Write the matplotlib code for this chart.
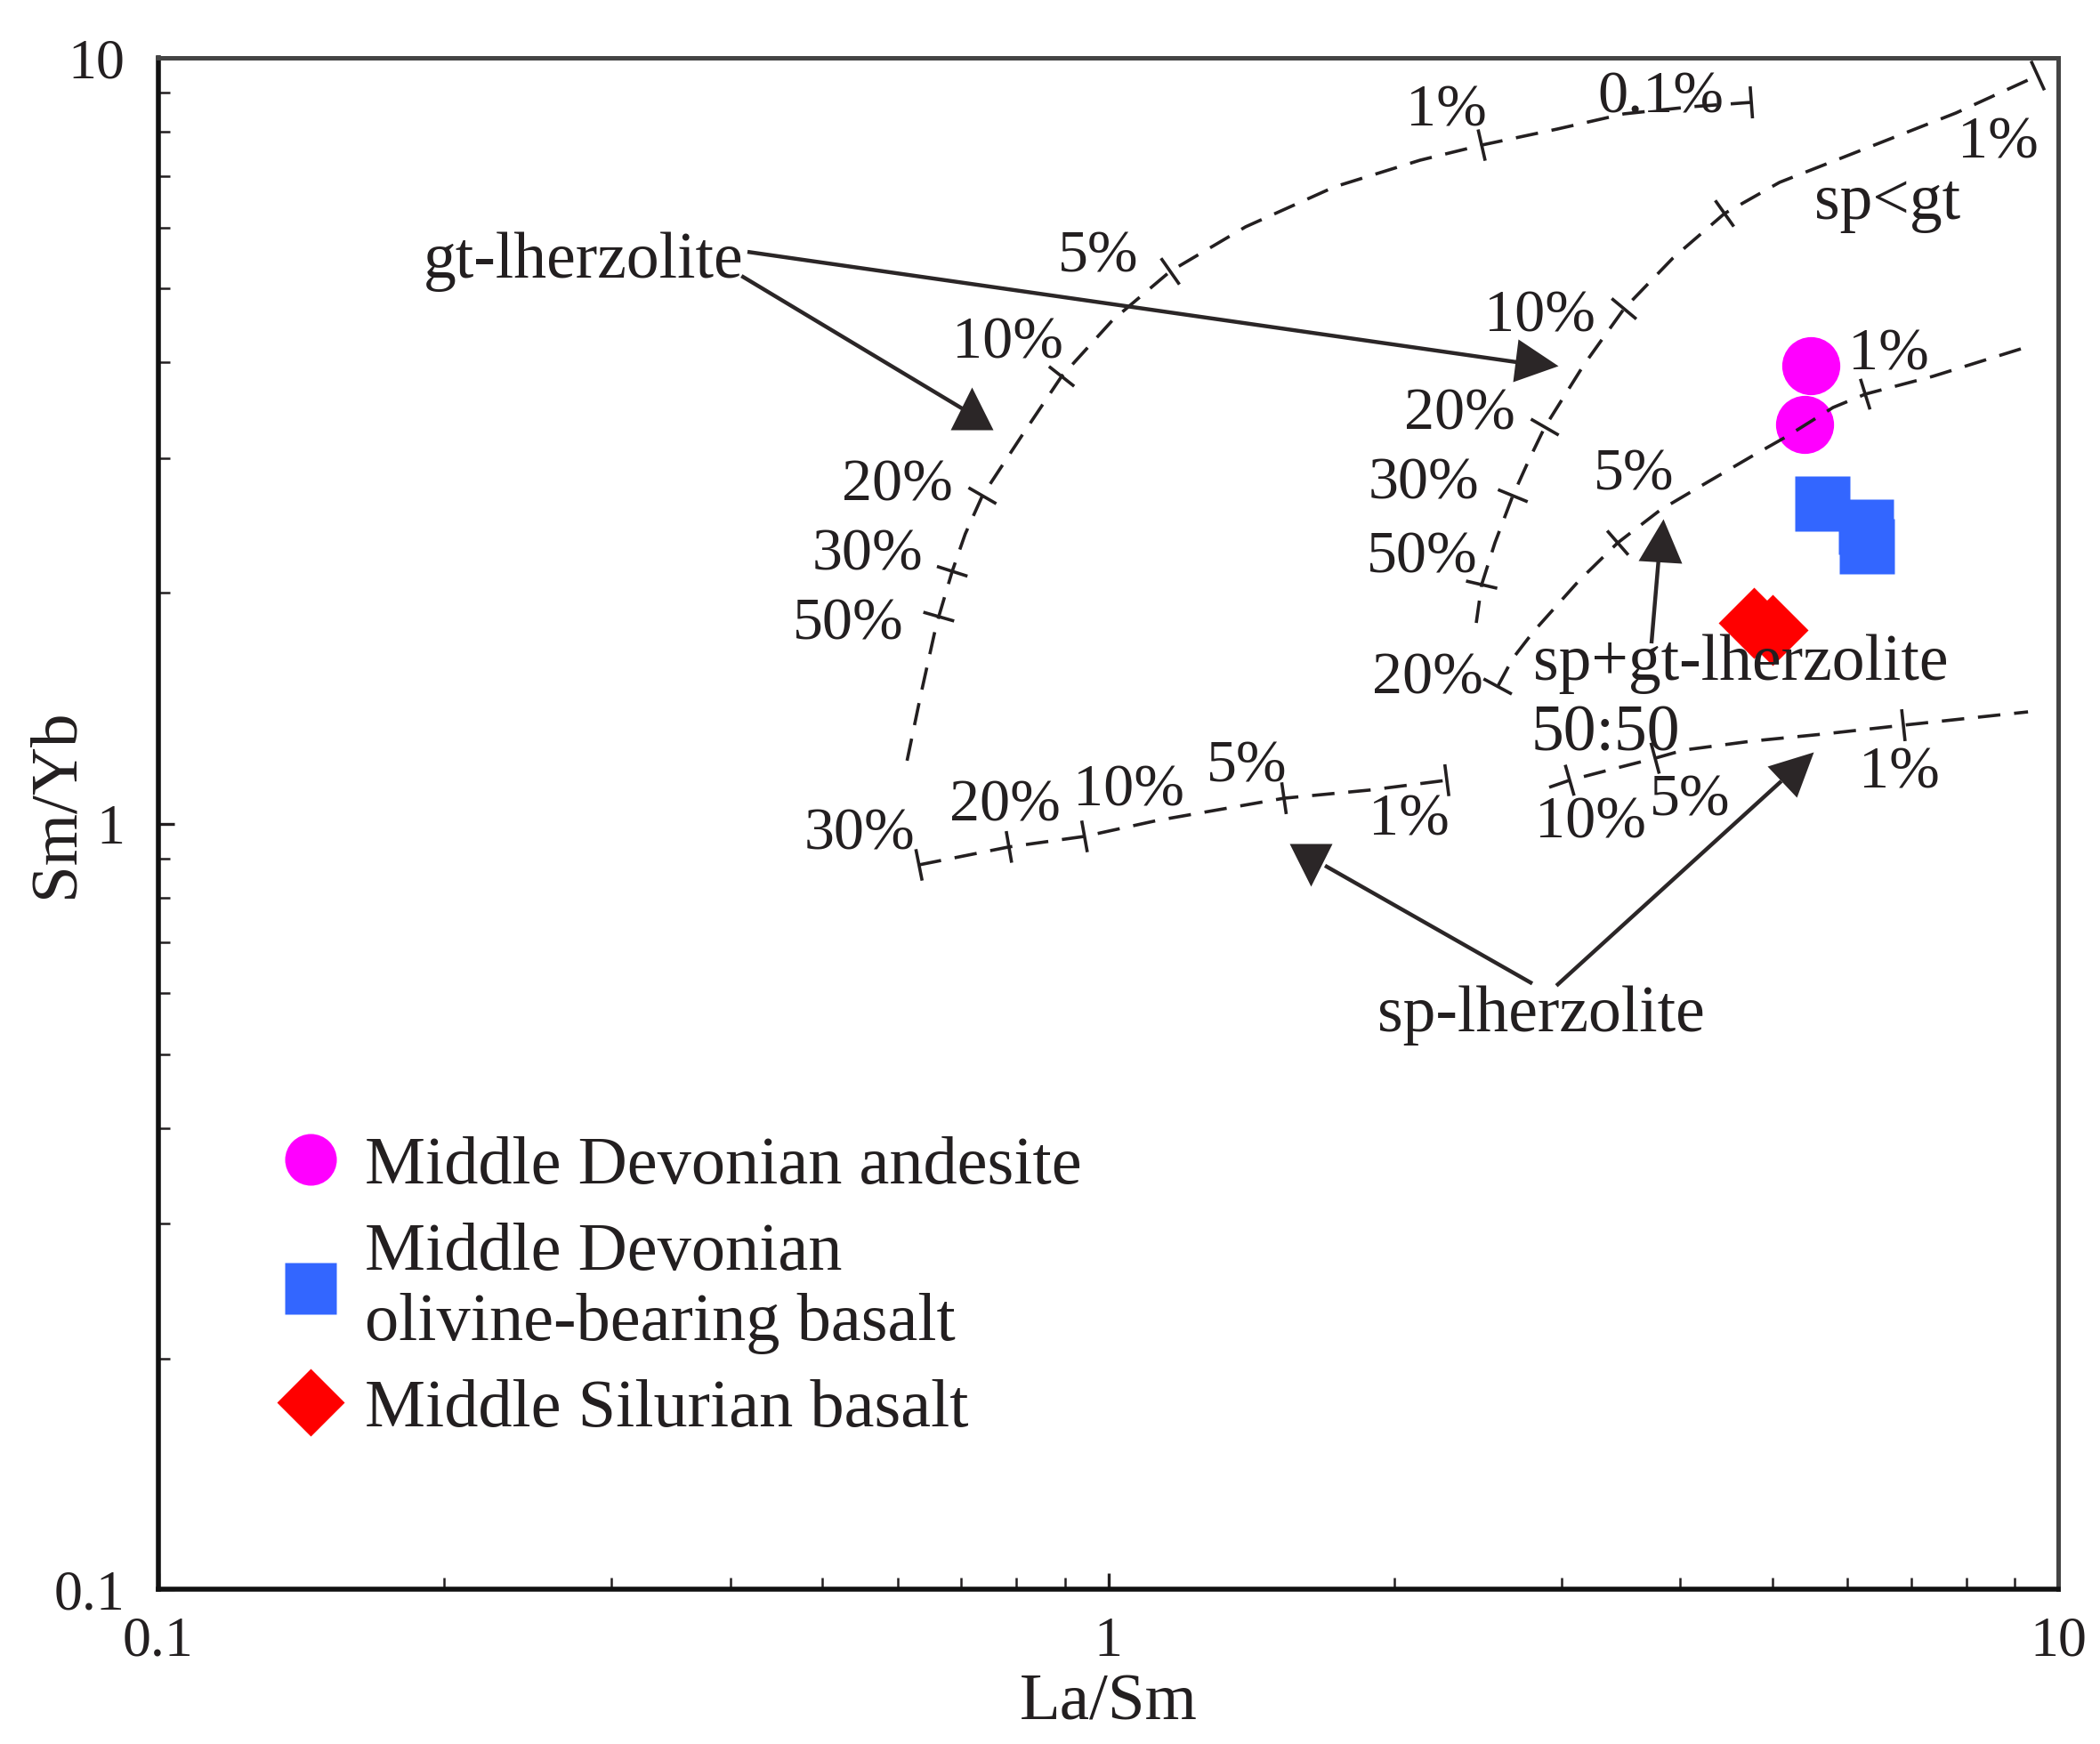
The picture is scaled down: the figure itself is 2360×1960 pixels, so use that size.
import numpy as np
import matplotlib
matplotlib.use("Agg")
import matplotlib.pyplot as plt
from matplotlib.lines import Line2D
from matplotlib.markers import MarkerStyle
from matplotlib.transforms import Affine2D
from matplotlib.ticker import LogLocator, NullFormatter, FixedLocator, FixedFormatter

plt.rcParams['font.family'] = ['Liberation Serif', 'DejaVu Serif']

# ---------------- sample data (La/Sm, Sm/Yb) ----------------
andesite_la_sm = [5.49, 5.41]
andesite_sm_yb = [3.96, 3.32]
olbasalt_la_sm = [5.65, 6.28, 6.29]
olbasalt_sm_yb = [2.62, 2.44, 2.30]
silbasalt_la_sm = [4.78, 5.00]
silbasalt_sm_yb = [1.83, 1.79]

legend_labels = ["Middle Devonian andesite",
                 "Middle Devonian\nolivine-bearing basalt",
                 "Middle Silurian basalt"]

# ---------------- melting curves ----------------
gt_x = [0.614, 0.635, 0.656, 0.663, 0.685, 0.707, 0.737, 0.814, 0.893, 1.010,
        1.162, 1.395, 1.731, 2.129, 2.472, 2.969, 3.491, 4.104, 4.753]
gt_y = [1.208, 1.476, 1.770, 1.863, 2.135, 2.389, 2.680, 3.233, 3.837, 4.541,
        5.262, 6.016, 6.785, 7.350, 7.692, 8.072, 8.450, 8.631, 8.747]
gt_ticks = [3, 4, 6, 8, 10, 14, 18]

spgt_x = [2.440, 2.472, 2.553, 2.666, 2.772, 2.881, 3.167, 3.491, 3.930, 4.454,
          5.090, 6.264, 7.805, 9.517]
spgt_y = [1.828, 2.051, 2.326, 2.680, 2.983, 3.294, 3.972, 4.702, 5.476, 6.262,
          6.877, 7.610, 8.472, 9.480]
spgt_ticks = [1, 3, 5, 7, 9, 13]

mix_x = [2.570, 2.666, 2.802, 3.127, 3.438, 3.813, 4.256, 4.753, 5.189, 5.794,
         6.264, 7.378, 9.393]
mix_y = [1.510, 1.643, 1.780, 2.073, 2.326, 2.568, 2.783, 3.015, 3.207, 3.494,
         3.637, 3.837, 4.213]
mix_ticks = [0, 4, 10]

spA_x = [0.632, 0.786, 0.944, 1.125, 1.531, 1.887, 2.272]
spA_y = [0.883, 0.932, 0.962, 1.009, 1.079, 1.106, 1.139]
spA_ticks = [0, 1, 2, 4, 6]

spB_x = [2.912, 3.060, 3.379, 3.764, 4.033, 4.753, 5.670, 6.871, 9.295]
spB_y = [1.115, 1.139, 1.176, 1.217, 1.247, 1.281, 1.309, 1.344, 1.399]
spB_ticks = [1, 3, 7]

# ---------------- annotation labels ----------------
pct_text = ["1%", "0.1%", "1%", "5%", "10%", "10%", "1%", "20%", "20%", "30%",
            "5%", "30%", "50%", "50%", "20%", "5%", "10%", "20%", "30%", "1%",
            "10%", "5%", "1%"]
pct_x = [2.269, 3.814, 8.64, 0.976, 0.783, 2.848, 6.624, 0.600, 2.344, 2.147,
         3.574, 0.558, 2.140, 0.532, 2.167, 1.398, 1.050, 0.778, 0.547, 2.075,
         3.216, 4.095, 6.810]
pct_y = [8.687, 9.04, 7.886, 5.601, 4.311, 4.673, 4.169, 2.814, 3.483, 2.825,
         2.905, 2.282, 2.264, 1.851, 1.574, 1.208, 1.124, 1.073, 0.985, 1.028,
         1.020, 1.091, 1.185]

word_text = ["gt-lherzolite", "sp<gt", "sp+gt-lherzolite", "50:50", "sp-lherzolite"]
word_x = [0.280, 6.606, 4.634, 3.336, 2.856]
word_y = [5.534, 6.606, 1.652, 1.333, 0.574]

# arrows: start, end of line, head centre, head direction (deg)
arr_x0 = [0.417, 0.411, 3.731, 2.795, 2.963]
arr_y0 = [5.58, 5.19, 1.719, 0.618, 0.614]
arr_x1 = [2.694, 0.704, 3.795, 1.691, 5.112]
arr_y1 = [4.004, 3.475, 2.205, 0.881, 1.136]
head_x = [2.825, 0.718, 3.820, 1.634, 5.316]
head_y = [3.995, 3.484, 2.345, 0.883, 1.185]
head_dir = [-8, 90, 86, -90, 43]

x_major = [0.1, 1, 10]
x_major_labels = ["0.1", "1", "10"]
y_major = [0.1, 1, 10]
y_major_labels = ["0.1", "1", "10"]

# ---------------- styling ----------------
ink = '#231f20'
c_mag = '#FF00FF'
c_blue = '#3366FF'
c_red = '#FF0000'

fig = plt.figure(figsize=(11.8, 9.8), dpi=200)
ax = fig.add_axes([178 / 2360, 1 - 1786 / 1960, (2313 - 178) / 2360, (1786 - 65) / 1960])
ax.set_xscale('log')
ax.set_yscale('log')
ax.set_xlim(0.1, 10)
ax.set_ylim(0.1, 10)

ax.xaxis.set_major_locator(FixedLocator(x_major))
ax.xaxis.set_major_formatter(FixedFormatter(x_major_labels))
ax.yaxis.set_major_locator(FixedLocator(y_major))
ax.yaxis.set_major_formatter(FixedFormatter(y_major_labels))
for axis in (ax.xaxis, ax.yaxis):
    axis.set_minor_locator(LogLocator(base=10, subs=np.arange(2, 10)))
    axis.set_minor_formatter(NullFormatter())

ax.tick_params(which='both', direction='in', top=False, right=False, colors=ink,
               labelcolor=ink, labelsize=23)
ax.tick_params(which='major', length=6.5, width=1.2)
ax.tick_params(which='minor', length=4.6, width=0.9)
ax.tick_params(axis='x', which='major', pad=11)
ax.tick_params(axis='y', which='major', pad=13.5)

for side in ('left', 'bottom'):
    ax.spines[side].set_linewidth(2.0)
    ax.spines[side].set_color('#111111')
for side in ('top', 'right'):
    ax.spines[side].set_linewidth(1.8)
    ax.spines[side].set_color('#444444')

ax.set_xlabel('La/Sm', fontsize=27, color=ink)
ax.set_ylabel('Sm/Yb', fontsize=27, color=ink)
ax.xaxis.set_label_coords(0.5, -0.055)
ax.yaxis.set_label_coords(-0.0375, 0.513)

# ---------------- samples ----------------
ax.plot(andesite_la_sm, andesite_sm_yb, ls='none', marker='o', ms=23.5,
        mfc=c_mag, mec='none', zorder=2)
ax.plot(olbasalt_la_sm, olbasalt_sm_yb, ls='none', marker='s', ms=22,
        mfc=c_blue, mec='none', zorder=2)
ax.plot(silbasalt_la_sm, silbasalt_sm_yb, ls='none', marker='D', ms=20.5,
        mfc=c_red, mec='none', zorder=2)

# ---------------- melting curves with ticks ----------------
TICK_HALF = 18  # px


def draw_curve(xs, ys, tick_idx):
    ax.plot(xs, ys, ls=(0, (7, 4.3)), lw=1.3, color=ink, zorder=3)
    pts = ax.transData.transform(np.column_stack([xs, ys]))
    inv = ax.transData.inverted()
    for i in tick_idx:
        a = pts[max(i - 1, 0)]
        b = pts[min(i + 1, len(pts) - 1)]
        d = b - a
        d = d / np.hypot(d[0], d[1])
        n = np.array([-d[1], d[0]])
        seg = inv.transform(np.array([pts[i] - n * TICK_HALF, pts[i] + n * TICK_HALF]))
        ax.plot(seg[:, 0], seg[:, 1], color=ink, lw=1.3, solid_capstyle='butt', zorder=3)


draw_curve(gt_x, gt_y, gt_ticks)
draw_curve(spgt_x, spgt_y, spgt_ticks)
draw_curve(mix_x, mix_y, mix_ticks)
draw_curve(spA_x, spA_y, spA_ticks)
draw_curve(spB_x, spB_y, spB_ticks)

# ---------------- arrows ----------------
for i in range(len(arr_x0)):
    ax.plot([arr_x0[i], arr_x1[i]], [arr_y0[i], arr_y1[i]], color='#2b2627',
            lw=1.6, solid_capstyle='butt', zorder=4)
    ms_ = MarkerStyle('^', transform=Affine2D().rotate_deg(head_dir[i] - 90))
    ax.plot([head_x[i]], [head_y[i]], ls='none', marker=ms_, ms=17.5,
            mfc='#2b2627', mec='none', zorder=4)

# ---------------- labels ----------------
for t, x, y in zip(pct_text, pct_x, pct_y):
    ax.text(x, y, t, fontsize=24.5, color=ink, ha='center', va='center_baseline', zorder=5)
for t, x, y in zip(word_text, word_x, word_y):
    ax.text(x, y, t, fontsize=26.5, color=ink, ha='center', va='center_baseline', zorder=5)

# ---------------- legend ----------------
handles = [
    Line2D([], [], ls='none', marker='o', ms=20.9, mfc=c_mag, mec='none'),
    Line2D([], [], ls='none', marker='s', ms=20.9, mfc=c_blue, mec='none'),
    Line2D([], [], ls='none', marker='D', ms=19.5, mfc=c_red, mec='none'),
]
leg = ax.legend(handles, legend_labels, loc='upper left', bbox_to_anchor=(0.0658, 0.2960),
                frameon=False, fontsize=27.5, handlelength=0.8, handletextpad=0.40,
                labelspacing=0.36, borderpad=0, borderaxespad=0)
for t in leg.get_texts():
    t.set_color(ink)

fig.savefig('out.png', dpi=200)
